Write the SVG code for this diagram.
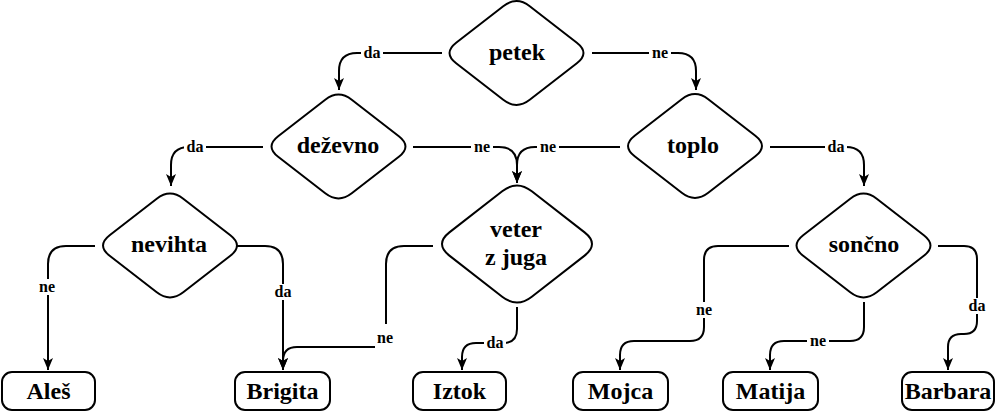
<svg xmlns="http://www.w3.org/2000/svg" xmlns:xlink="http://www.w3.org/1999/xlink" width="996" height="411" viewBox="0 0 996 411">
<style>
.shape{fill:#fff;stroke:#000;stroke-width:2}
.node{font-family:"Liberation Serif","Times New Roman",serif;font-weight:bold;font-size:24px;text-anchor:middle;fill:#000}
.edge{fill:none;stroke:#000;stroke-width:2}
.lbl{font-family:"Liberation Serif","Times New Roman",serif;font-weight:bold;font-size:16px;text-anchor:middle;fill:#000}
.lbg{fill:#fff;stroke:none}
</style>
<defs>
<path id="dia" d="M -13.25,-46.8 Q 0,-57.1 13.25,-46.8 L 60.35,-10.3 Q 73.6,0 60.35,10.3 L 13.25,46.8 Q 0,57.1 -13.25,46.8 L -60.35,10.3 Q -73.6,0 -60.35,-10.3 Z"/>
<path id="diaL" d="M -14.8,-52.7 Q 0,-64.3 14.8,-52.7 L 67.6,-11.6 Q 82.4,0 67.6,11.6 L 14.8,52.7 Q 0,64.3 -14.8,52.7 L -67.6,11.6 Q -82.4,0 -67.6,-11.6 Z"/>
<marker id="arr" markerUnits="userSpaceOnUse" markerWidth="12" markerHeight="12" viewBox="0 0 12 12" refX="12" refY="6" orient="auto">
<path d="M0,1 L12,6 L0,11 L3,6 Z" fill="#000"/>
</marker>
</defs>

<g id="connectors">
<path class="edge" d="M 442,53 L 357,53 Q 339,53 339,71 L 339,90" marker-end="url(#arr)"/>
<path class="edge" d="M 592,53 L 678,53 Q 696,53 696,71 L 696,90" marker-end="url(#arr)"/>
<path class="edge" d="M 263,147 L 189,147 Q 171,147 171,165 L 171,186" marker-end="url(#arr)"/>
<path class="edge" d="M 413,147 L 499,147 Q 517,147 517,165 L 517,183" marker-end="url(#arr)"/>
<path class="edge" d="M 620,147 L 535,147 Q 517,147 517,165 L 517,183" marker-end="url(#arr)"/>
<path class="edge" d="M 770,147 L 846,147 Q 864,147 864,165 L 864,186" marker-end="url(#arr)"/>
<path class="edge" d="M 95,246 L 66,246 Q 48,246 48,264 L 48,370" marker-end="url(#arr)"/>
<path class="edge" d="M 237,246 L 265,246 Q 283,246 283,264 L 283,370" marker-end="url(#arr)"/>
<path class="edge" d="M 433,246 L 404,246 Q 386,246 386,264 L 386,324"/>
<path class="edge" d="M 375,347 L 297,347 Q 283,347 283,361 L 283,370" marker-end="url(#arr)"/>
<path class="edge" d="M 517,307 L 517,329 Q 517,343 503,343 L 476,343 Q 462,343 462,357 L 462,370" marker-end="url(#arr)"/>
<path class="edge" d="M 789,246 L 718,246 Q 704,246 704,260 L 704,327 Q 704,341 690,341 L 634,341 Q 620,341 620,355 L 620,370" marker-end="url(#arr)"/>
<path class="edge" d="M 864,302 L 864,327 Q 864,341 850,341 L 784,341 Q 770,341 770,355 L 770,370" marker-end="url(#arr)"/>
<path class="edge" d="M 938,246 L 964,246 Q 977,246 977,259 L 977,321 Q 977,334 964,334 L 961,334 Q 948,334 948,347 L 948,370" marker-end="url(#arr)"/>

<g id="labels">
<rect class="lbg" x="361" y="45" width="22" height="16"/><text class="lbl" x="372" y="58">da</text>
<rect class="lbg" x="649" y="45" width="22" height="16"/><text class="lbl" x="660" y="58">ne</text>
<rect class="lbg" x="184" y="139" width="22" height="16"/><text class="lbl" x="195" y="152">da</text>
<rect class="lbg" x="471" y="139" width="22" height="16"/><text class="lbl" x="482" y="152">ne</text>
<rect class="lbg" x="537" y="139" width="22" height="16"/><text class="lbl" x="548" y="152">ne</text>
<rect class="lbg" x="825" y="139" width="22" height="16"/><text class="lbl" x="836" y="152">da</text>
<rect class="lbg" x="36" y="279" width="22" height="16"/><text class="lbl" x="47" y="292">ne</text>
<rect class="lbg" x="272" y="284" width="22" height="16"/><text class="lbl" x="283" y="297">da</text>
<text class="lbl" x="385" y="343">ne</text>
<rect class="lbg" x="484" y="335" width="22" height="16"/><text class="lbl" x="495" y="348">da</text>
<rect class="lbg" x="693" y="302" width="22" height="16"/><text class="lbl" x="704" y="315">ne</text>
<rect class="lbg" x="807" y="333" width="22" height="16"/><text class="lbl" x="818" y="346">ne</text>
<rect class="lbg" x="966" y="298" width="22" height="16"/><text class="lbl" x="977" y="311">da</text>
</g>
</g>

<g id="petek"><use xlink:href="#dia" href="#dia" class="shape" transform="translate(516.5,53)"/><text class="node" x="517" y="60">petek</text></g>
<g id="dezevno"><use xlink:href="#dia" href="#dia" class="shape" transform="translate(338.5,146.5)"/><text class="node" x="338" y="153">deževno</text></g>
<g id="toplo"><use xlink:href="#dia" href="#dia" class="shape" transform="translate(695,146)"/><text class="node" x="693" y="153">toplo</text></g>
<g id="nevihta"><use xlink:href="#dia" href="#dia" class="shape" transform="translate(170,245.5)"/><text class="node" x="169" y="252">nevihta</text></g>
<g id="veter"><use xlink:href="#diaL" href="#diaL" class="shape" transform="translate(517,244)"/><text class="node" x="516" y="237">veter</text><text class="node" x="516" y="265">z juga</text></g>
<g id="soncno"><use xlink:href="#dia" href="#dia" class="shape" transform="translate(863.5,245.5)"/><text class="node" x="864" y="252">sončno</text></g>

<g id="ales"><rect class="shape" x="2" y="372" width="93" height="38" rx="10"/><text class="node" x="48.5" y="399">Aleš</text></g>
<g id="brigita"><rect class="shape" x="235" y="372" width="95" height="38" rx="10"/><text class="node" x="282.5" y="399">Brigita</text></g>
<g id="iztok"><rect class="shape" x="413" y="372" width="93" height="38" rx="10"/><text class="node" x="459.5" y="399">Iztok</text></g>
<g id="mojca"><rect class="shape" x="573" y="372" width="95" height="38" rx="10"/><text class="node" x="620.5" y="399">Mojca</text></g>
<g id="matija"><rect class="shape" x="723" y="372" width="95" height="38" rx="10"/><text class="node" x="770.5" y="399">Matija</text></g>
<g id="barbara"><rect class="shape" x="902" y="372" width="92" height="38" rx="10"/><text class="node" x="948" y="399">Barbara</text></g>
</svg>
